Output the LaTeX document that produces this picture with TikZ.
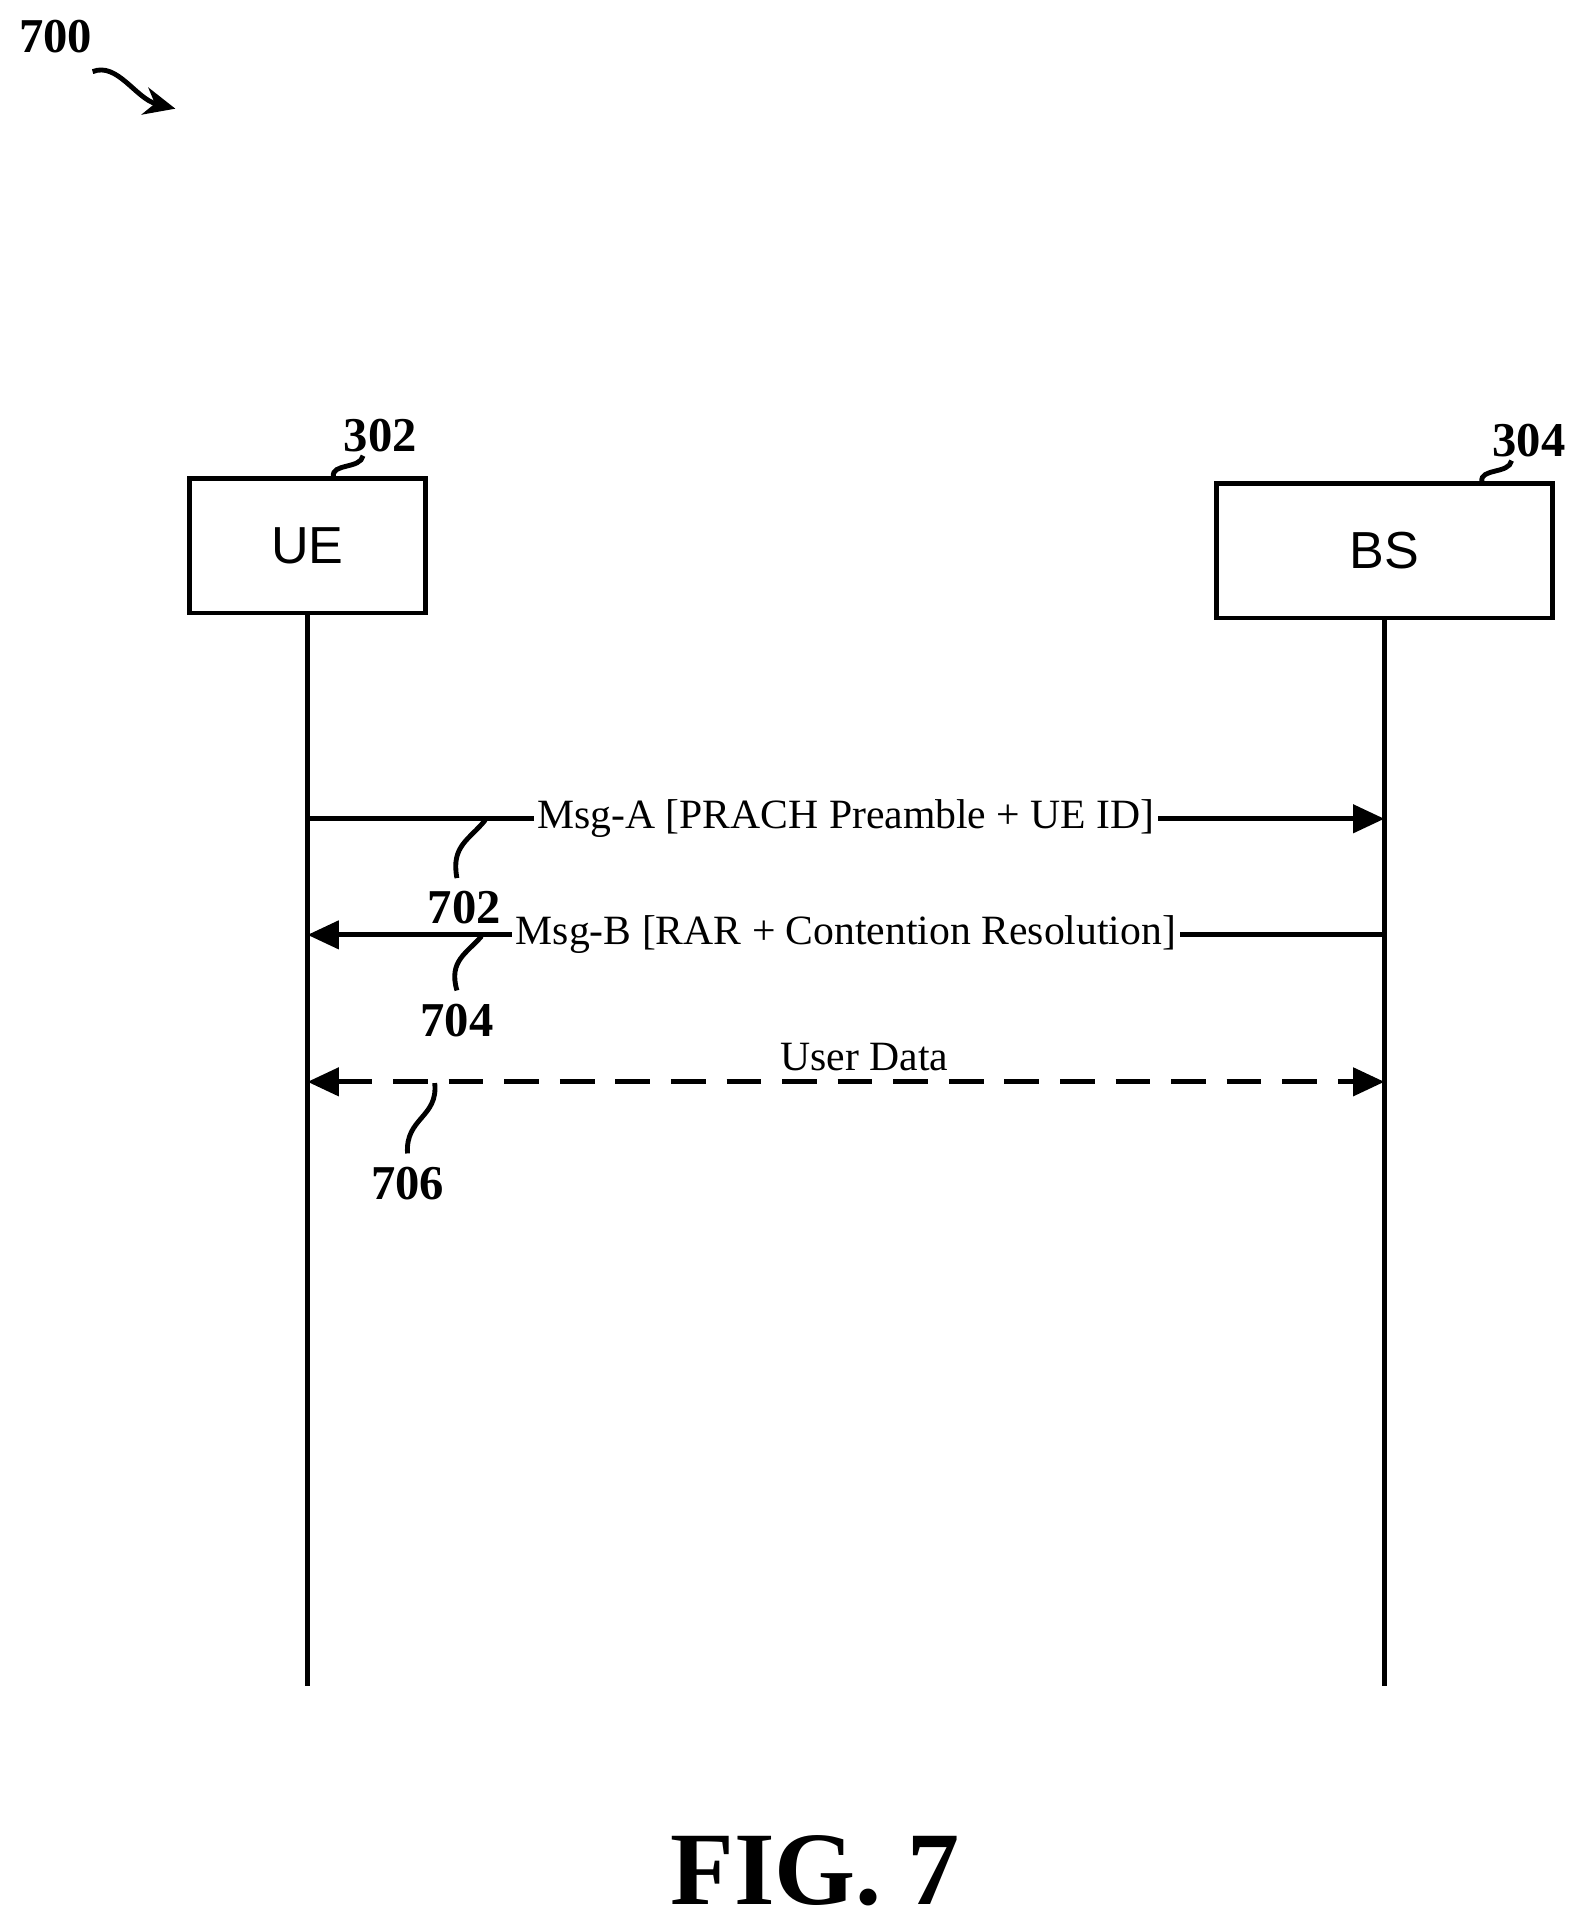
\documentclass[tikz,border=0pt]{standalone}
\usepackage{fontspec}
\setmainfont{Liberation Serif}
\setsansfont{Liberation Sans}
\usetikzlibrary{arrows.meta, positioning}

\begin{document}
\begin{tikzpicture}[
    x=0.0125cm, y=-0.0125cm, % work in reference pixels
    >={Triangle[length=9pt,width=8pt]},
    entity/.style={draw, line width=1.4pt, inner sep=0pt, font=\sffamily\fontsize{15}{18}\selectfont},
    life/.style={line width=1.4pt},
    msg/.style={->, line width=1.4pt},
    msg label/.style={fill=white, inner sep=1pt, font=\fontsize{12}{14}\selectfont},
    ref/.style={font=\bfseries\fontsize{14}{16}\selectfont},
    lead/.style={line width=1.4pt}
  ]
  \useasboundingbox (0,0) rectangle (1280,1562);

  % --- Figure reference ---
  \node[ref] (fig ref) at (45,30) {700};
  \coordinate (fig tip) at (142,88);
  \draw[lead, -{Stealth[length=9pt,width=8pt]}] (75,58) .. controls (95,50) and (110,80) .. (fig tip);

  % --- Entities ---
  \node[entity, minimum width=2.38cm, minimum height=1.36cm] (ue) at (249,442) {UE};
  \node[entity, minimum width=3.4cm, minimum height=1.36cm] (bs) at (1121,446) {BS};
  \node[ref] (ue ref) at (308,353) {302};
  \node[ref] (bs ref) at (1238,357) {304};
  \draw[lead] (270,386) .. controls (268,375) and (292,380) .. (294,369);
  \draw[lead] (1200,390) .. controls (1198,379) and (1222,384) .. (1224,373);

  % --- Lifelines ---
  \coordinate (ue end) at (249,1365);
  \coordinate (bs end) at (1121,1365);
  \draw[life] (ue.south) -- (ue end);
  \draw[life] (bs.south) -- (bs end);

  % --- Messages ---
  \coordinate (ue a) at (249,663);  \coordinate (bs a) at (1121,663);
  \coordinate (ue b) at (249,757);  \coordinate (bs b) at (1121,757);
  \coordinate (ue c) at (249,876);  \coordinate (bs c) at (1121,876);
  \draw[msg] (ue a) -- (bs a) node[msg label, pos=0.5] (msg a) {Msg-A [PRACH Preamble + UE ID]};
  \draw[msg] (bs b) -- (ue b) node[msg label, pos=0.5] (msg b) {Msg-B [RAR + Contention Resolution]};
  \draw[msg, <->, dash pattern=on 10pt off 6pt] (ue c) -- (bs c);
  \node[font=\fontsize{12}{14}\selectfont] (msg c) at (700,856) {User Data};

  % --- Message references ---
  \node[ref] (ref a) at (376,735) {702};
  \node[ref] (ref b) at (370,826) {704};
  \node[ref] (ref c) at (330,958) {706};
  \draw[lead] (393,664) .. controls (380,680) and (365,685) .. (370,711);
  \draw[lead] (390,758) .. controls (378,772) and (363,778) .. (370,802);
  \draw[lead] (352,877) .. controls (355,905) and (328,905) .. (330,934);

  % --- Caption ---
  \node[font=\bfseries\fontsize{30}{34}\selectfont] (caption) at (660,1515) {FIG. 7};
\end{tikzpicture}
\end{document}
